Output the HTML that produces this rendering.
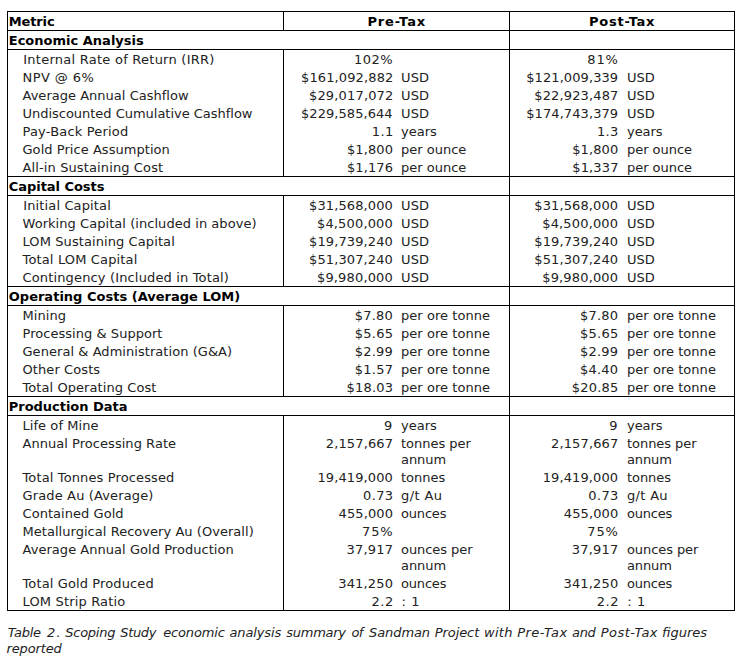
<!DOCTYPE html>
<html lang="en">
<head>
<meta charset="utf-8">
<title>Table 2. Scoping Study economic analysis summary</title>
<style>
html,body{margin:0;padding:0;background:#fff}
body{width:748px;height:664px;overflow:hidden;position:relative;font-family:"DejaVu Sans","Liberation Sans",sans-serif;font-size:13px;color:#000}
i{position:absolute;display:block;background:#000}
.t{position:absolute;white-space:nowrap;line-height:16px;height:16px;color:#222}
.b{font-weight:bold;color:#000}
.i{font-style:italic}
</style>
</head>
<body>
<i style="left:7px;top:11px;width:728px;height:1px"></i><i style="left:283px;top:12px;width:1px;height:18px"></i><i style="left:7px;top:30px;width:728px;height:1px"></i><i style="left:7px;top:49px;width:728px;height:1px"></i><i style="left:283px;top:50px;width:1px;height:126px"></i><i style="left:7px;top:176px;width:728px;height:1px"></i><i style="left:7px;top:195px;width:728px;height:1px"></i><i style="left:283px;top:196px;width:1px;height:90px"></i><i style="left:7px;top:286px;width:728px;height:1px"></i><i style="left:7px;top:305px;width:728px;height:1px"></i><i style="left:283px;top:306px;width:1px;height:90px"></i><i style="left:7px;top:396px;width:728px;height:1px"></i><i style="left:7px;top:415px;width:728px;height:1px"></i><i style="left:283px;top:416px;width:1px;height:194px"></i><i style="left:7px;top:610px;width:728px;height:1px"></i><i style="left:7px;top:11px;width:1px;height:600px"></i><i style="left:509px;top:11px;width:1px;height:600px"></i><i style="left:734px;top:11px;width:1px;height:600px"></i>
<div class="t b" style="left:8.75px;top:14px;letter-spacing:-0.14px">Metric</div>
<div class="t b" style="left:367.50px;top:14px;letter-spacing:0.84px">Pre-Tax</div>
<div class="t b" style="left:589.00px;top:14px;letter-spacing:0.75px">Post-Tax</div>
<div class="t b" style="left:8.75px;top:33px;letter-spacing:0.01px">Economic Analysis</div>
<div class="t" style="left:23.25px;top:52px;letter-spacing:0.25px">Internal Rate of Return (IRR)</div>
<div class="t" style="left:354.00px;top:52px;letter-spacing:0.52px">102%</div>
<div class="t" style="left:587.25px;top:52px;letter-spacing:0.90px">81%</div>
<div class="t" style="left:22.50px;top:70px;letter-spacing:0.42px">NPV @ 6%</div>
<div class="t" style="left:301.00px;top:70px;letter-spacing:0.12px">$161,092,882</div>
<div class="t" style="left:526.25px;top:70px;letter-spacing:0.08px">$121,009,339</div>
<div class="t" style="left:401.00px;top:70px;letter-spacing:0.11px">USD</div>
<div class="t" style="left:627.00px;top:70px">USD</div>
<div class="t" style="left:22.50px;top:88px;letter-spacing:0.02px">Average Annual Cashflow</div>
<div class="t" style="left:309.00px;top:88px;letter-spacing:0.16px">$29,017,072</div>
<div class="t" style="left:534.25px;top:88px;letter-spacing:0.14px">$22,923,487</div>
<div class="t" style="left:401.00px;top:88px;letter-spacing:0.11px">USD</div>
<div class="t" style="left:627.00px;top:88px">USD</div>
<div class="t" style="left:22.50px;top:106px;letter-spacing:-0.02px">Undiscounted Cumulative Cashflow</div>
<div class="t" style="left:301.00px;top:106px;letter-spacing:0.06px">$229,585,644</div>
<div class="t" style="left:526.25px;top:106px;letter-spacing:0.08px">$174,743,379</div>
<div class="t" style="left:401.00px;top:106px;letter-spacing:0.11px">USD</div>
<div class="t" style="left:627.00px;top:106px">USD</div>
<div class="t" style="left:22.50px;top:124px;letter-spacing:0.18px">Pay-Back Period</div>
<div class="t" style="left:371.75px;top:124px;letter-spacing:0.45px">1.1</div>
<div class="t" style="left:597.00px;top:124px;letter-spacing:0.34px">1.3</div>
<div class="t" style="left:401.00px;top:124px">years</div>
<div class="t" style="left:627.00px;top:124px;letter-spacing:-0.06px">years</div>
<div class="t" style="left:22.50px;top:142px;letter-spacing:0.05px">Gold Price Assumption</div>
<div class="t" style="left:347.00px;top:142px;letter-spacing:0.09px">$1,800</div>
<div class="t" style="left:572.25px;top:142px;letter-spacing:0.09px">$1,800</div>
<div class="t" style="left:401.00px;top:142px">per ounce</div>
<div class="t" style="left:627.00px;top:142px;letter-spacing:-0.03px">per ounce</div>
<div class="t" style="left:22.50px;top:160px;letter-spacing:0.12px">All-in Sustaining Cost</div>
<div class="t" style="left:347.00px;top:160px;letter-spacing:0.09px">$1,176</div>
<div class="t" style="left:572.25px;top:160px;letter-spacing:0.14px">$1,337</div>
<div class="t" style="left:401.00px;top:160px">per ounce</div>
<div class="t" style="left:627.00px;top:160px;letter-spacing:-0.03px">per ounce</div>
<div class="t b" style="left:8.75px;top:179px;letter-spacing:-0.04px">Capital Costs</div>
<div class="t" style="left:23.25px;top:198px;letter-spacing:0.13px">Initial Capital</div>
<div class="t" style="left:309.00px;top:198px;letter-spacing:0.11px">$31,568,000</div>
<div class="t" style="left:534.25px;top:198px;letter-spacing:0.11px">$31,568,000</div>
<div class="t" style="left:401.00px;top:198px;letter-spacing:0.11px">USD</div>
<div class="t" style="left:627.00px;top:198px">USD</div>
<div class="t" style="left:22.50px;top:216px;letter-spacing:0.05px">Working Capital (included in above)</div>
<div class="t" style="left:317.00px;top:216px;letter-spacing:0.15px">$4,500,000</div>
<div class="t" style="left:542.25px;top:216px;letter-spacing:0.15px">$4,500,000</div>
<div class="t" style="left:401.00px;top:216px;letter-spacing:0.11px">USD</div>
<div class="t" style="left:627.00px;top:216px">USD</div>
<div class="t" style="left:22.50px;top:234px;letter-spacing:0.09px">LOM Sustaining Capital</div>
<div class="t" style="left:309.00px;top:234px;letter-spacing:0.11px">$19,739,240</div>
<div class="t" style="left:534.25px;top:234px;letter-spacing:0.11px">$19,739,240</div>
<div class="t" style="left:401.00px;top:234px;letter-spacing:0.11px">USD</div>
<div class="t" style="left:627.00px;top:234px">USD</div>
<div class="t" style="left:22.50px;top:252px;letter-spacing:0.15px">Total LOM Capital</div>
<div class="t" style="left:309.00px;top:252px;letter-spacing:0.11px">$51,307,240</div>
<div class="t" style="left:534.25px;top:252px;letter-spacing:0.11px">$51,307,240</div>
<div class="t" style="left:401.00px;top:252px;letter-spacing:0.11px">USD</div>
<div class="t" style="left:627.00px;top:252px">USD</div>
<div class="t" style="left:22.50px;top:270px;letter-spacing:0.15px">Contingency (Included in Total)</div>
<div class="t" style="left:317.00px;top:270px;letter-spacing:0.15px">$9,980,000</div>
<div class="t" style="left:542.25px;top:270px;letter-spacing:0.15px">$9,980,000</div>
<div class="t" style="left:401.00px;top:270px;letter-spacing:0.11px">USD</div>
<div class="t" style="left:627.00px;top:270px">USD</div>
<div class="t b" style="left:8.75px;top:289px;letter-spacing:0.01px">Operating Costs (Average LOM)</div>
<div class="t" style="left:22.50px;top:308px;letter-spacing:0.09px">Mining</div>
<div class="t" style="left:354.75px;top:308px;letter-spacing:0.22px">$7.80</div>
<div class="t" style="left:580.00px;top:308px;letter-spacing:0.22px">$7.80</div>
<div class="t" style="left:401.00px;top:308px;letter-spacing:0.06px">per ore tonne</div>
<div class="t" style="left:627.00px;top:308px;letter-spacing:0.04px">per ore tonne</div>
<div class="t" style="left:22.50px;top:326px;letter-spacing:0.04px">Processing &amp; Support</div>
<div class="t" style="left:354.75px;top:326px;letter-spacing:0.28px">$5.65</div>
<div class="t" style="left:580.00px;top:326px;letter-spacing:0.28px">$5.65</div>
<div class="t" style="left:401.00px;top:326px;letter-spacing:0.06px">per ore tonne</div>
<div class="t" style="left:627.00px;top:326px;letter-spacing:0.04px">per ore tonne</div>
<div class="t" style="left:22.50px;top:344px;letter-spacing:0.05px">General &amp; Administration (G&amp;A)</div>
<div class="t" style="left:354.75px;top:344px;letter-spacing:0.22px">$2.99</div>
<div class="t" style="left:580.00px;top:344px;letter-spacing:0.22px">$2.99</div>
<div class="t" style="left:401.00px;top:344px;letter-spacing:0.06px">per ore tonne</div>
<div class="t" style="left:627.00px;top:344px;letter-spacing:0.04px">per ore tonne</div>
<div class="t" style="left:22.50px;top:362px;letter-spacing:0.09px">Other Costs</div>
<div class="t" style="left:354.75px;top:362px;letter-spacing:0.28px">$1.57</div>
<div class="t" style="left:580.00px;top:362px;letter-spacing:0.22px">$4.40</div>
<div class="t" style="left:401.00px;top:362px;letter-spacing:0.06px">per ore tonne</div>
<div class="t" style="left:627.00px;top:362px;letter-spacing:0.04px">per ore tonne</div>
<div class="t" style="left:22.50px;top:380px;letter-spacing:0.07px">Total Operating Cost</div>
<div class="t" style="left:346.50px;top:380px;letter-spacing:0.22px">$18.03</div>
<div class="t" style="left:571.75px;top:380px;letter-spacing:0.22px">$20.85</div>
<div class="t" style="left:401.00px;top:380px;letter-spacing:0.06px">per ore tonne</div>
<div class="t" style="left:627.00px;top:380px;letter-spacing:0.04px">per ore tonne</div>
<div class="t b" style="left:8.75px;top:399px;letter-spacing:-0.03px">Production Data</div>
<div class="t" style="left:22.50px;top:418px;letter-spacing:0.06px">Life of Mine</div>
<div class="t" style="left:384.00px;top:418px">9</div>
<div class="t" style="left:609.25px;top:418px">9</div>
<div class="t" style="left:401.00px;top:418px">years</div>
<div class="t" style="left:627.00px;top:418px;letter-spacing:-0.06px">years</div>
<div class="t" style="left:22.50px;top:436px;letter-spacing:0.04px">Annual Processing Rate</div>
<div class="t" style="left:325.75px;top:436px;letter-spacing:0.14px">2,157,667</div>
<div class="t" style="left:551.00px;top:436px;letter-spacing:0.14px">2,157,667</div>
<div class="t" style="left:401.00px;top:436px;letter-spacing:-0.02px">tonnes per</div>
<div class="t" style="left:401.00px;top:452px;letter-spacing:-0.06px">annum</div>
<div class="t" style="left:627.00px;top:436px;letter-spacing:-0.05px">tonnes per</div>
<div class="t" style="left:627.00px;top:452px;letter-spacing:-0.11px">annum</div>
<div class="t" style="left:22.50px;top:470px;letter-spacing:0.13px">Total Tonnes Processed</div>
<div class="t" style="left:317.50px;top:470px;letter-spacing:0.10px">19,419,000</div>
<div class="t" style="left:542.75px;top:470px;letter-spacing:0.10px">19,419,000</div>
<div class="t" style="left:401.00px;top:470px">tonnes</div>
<div class="t" style="left:627.00px;top:470px;letter-spacing:-0.08px">tonnes</div>
<div class="t" style="left:22.50px;top:488px;letter-spacing:0.14px">Grade Au (Average)</div>
<div class="t" style="left:363.00px;top:488px;letter-spacing:0.38px">0.73</div>
<div class="t" style="left:588.25px;top:488px;letter-spacing:0.38px">0.73</div>
<div class="t" style="left:401.00px;top:488px;letter-spacing:0.40px">g/t Au</div>
<div class="t" style="left:627.00px;top:488px;letter-spacing:0.32px">g/t Au</div>
<div class="t" style="left:22.50px;top:506px;letter-spacing:0.05px">Contained Gold</div>
<div class="t" style="left:338.50px;top:506px;letter-spacing:0.12px">455,000</div>
<div class="t" style="left:563.75px;top:506px;letter-spacing:0.12px">455,000</div>
<div class="t" style="left:401.00px;top:506px;letter-spacing:-0.18px">ounces</div>
<div class="t" style="left:627.00px;top:506px;letter-spacing:-0.22px">ounces</div>
<div class="t" style="left:22.50px;top:524px;letter-spacing:0.04px">Metallurgical Recovery Au (Overall)</div>
<div class="t" style="left:362.00px;top:524px;letter-spacing:0.90px">75%</div>
<div class="t" style="left:587.25px;top:524px;letter-spacing:0.90px">75%</div>
<div class="t" style="left:22.50px;top:542px;letter-spacing:0.04px">Average Annual Gold Production</div>
<div class="t" style="left:346.50px;top:542px;letter-spacing:0.22px">37,917</div>
<div class="t" style="left:571.75px;top:542px;letter-spacing:0.22px">37,917</div>
<div class="t" style="left:401.00px;top:542px;letter-spacing:-0.06px">ounces per</div>
<div class="t" style="left:401.00px;top:558px;letter-spacing:-0.06px">annum</div>
<div class="t" style="left:627.00px;top:542px;letter-spacing:-0.08px">ounces per</div>
<div class="t" style="left:627.00px;top:558px;letter-spacing:-0.11px">annum</div>
<div class="t" style="left:22.50px;top:576px;letter-spacing:0.12px">Total Gold Produced</div>
<div class="t" style="left:338.25px;top:576px;letter-spacing:0.15px">341,250</div>
<div class="t" style="left:563.50px;top:576px;letter-spacing:0.15px">341,250</div>
<div class="t" style="left:401.00px;top:576px;letter-spacing:-0.18px">ounces</div>
<div class="t" style="left:627.00px;top:576px;letter-spacing:-0.22px">ounces</div>
<div class="t" style="left:22.50px;top:594px;letter-spacing:0.16px">LOM Strip Ratio</div>
<div class="t" style="left:371.50px;top:594px;letter-spacing:0.56px">2.2</div>
<div class="t" style="left:596.75px;top:594px;letter-spacing:0.56px">2.2</div>
<div class="t" style="left:401.50px;top:594px;letter-spacing:0.56px">: 1</div>
<div class="t" style="left:627.25px;top:594px;letter-spacing:0.56px">: 1</div>
<div class="t i" style="left:7.75px;top:625px;letter-spacing:-0.28px">Table</div>
<div class="t i" style="left:47.00px;top:625px;letter-spacing:1.30px">2.</div>
<div class="t i" style="left:65.25px;top:625px;letter-spacing:-0.26px">Scoping</div>
<div class="t i" style="left:120.25px;top:625px;letter-spacing:-0.34px">Study</div>
<div class="t i" style="left:163.25px;top:625px;letter-spacing:-0.16px">economic</div>
<div class="t i" style="left:229.50px;top:625px;letter-spacing:-0.13px">analysis</div>
<div class="t i" style="left:286.25px;top:625px;letter-spacing:-0.26px">summary</div>
<div class="t i" style="left:351.50px;top:625px;letter-spacing:-0.70px">of</div>
<div class="t i" style="left:369.00px;top:625px;letter-spacing:-0.08px">Sandman</div>
<div class="t i" style="left:434.75px;top:625px;letter-spacing:-0.08px">Project</div>
<div class="t i" style="left:484.00px;top:625px;letter-spacing:0.30px">with</div>
<div class="t i" style="left:517.25px;top:625px;letter-spacing:0.45px">Pre-Tax</div>
<div class="t i" style="left:572.00px;top:625px;letter-spacing:-0.34px">and</div>
<div class="t i" style="left:600.75px;top:625px;letter-spacing:0.45px">Post-Tax</div>
<div class="t i" style="left:662.00px;top:625px">figures</div>
<div class="t i" style="left:6.50px;top:641px;letter-spacing:-0.13px">reported</div>

</body>
</html>
